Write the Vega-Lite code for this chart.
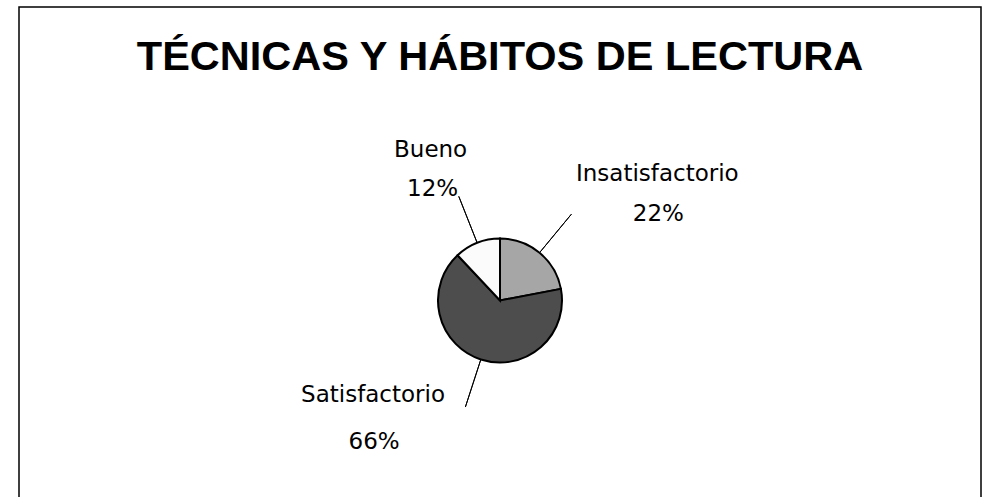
{
  "$schema": "https://vega.github.io/schema/vega-lite/v6.json",
  "autosize": {"type": "none"},
  "padding": {"left": 19, "top": 7, "right": 9, "bottom": 0},
  "width": 962,
  "height": 587,
  "background": "white",
  "view": {"stroke": "black", "strokeWidth": 1.5},
  "title": {
    "text": "TÉCNICAS Y HÁBITOS DE LECTURA",
    "font": "Liberation Sans",
    "fontSize": 41.5,
    "fontWeight": "bold",
    "color": "black",
    "baseline": "alphabetic",
    "anchor": "middle",
    "offset": -104
  },
  "data": {
    "values": [
      {"category": "Insatisfactorio", "share": 0.22},
      {"category": "Satisfactorio", "share": 0.66},
      {"category": "Bueno", "share": 0.12}
    ]
  },
  "transform": [{"window": [{"op": "row_number", "as": "idx"}]}],
  "layer": [
    {
      "mark": {"type": "arc", "outerRadius": 62, "stroke": "black", "strokeWidth": 2},
      "encoding": {
        "theta": {"field": "share", "type": "quantitative", "stack": true},
        "order": {"field": "idx", "type": "quantitative"},
        "color": {
          "field": "category",
          "type": "nominal",
          "scale": {"domain": ["Insatisfactorio", "Satisfactorio", "Bueno"], "range": ["#a6a6a6", "#4d4d4d", "#fbfbfb"]},
          "legend": null
        }
      }
    },
    {
      "transform": [
        {"stack": "share", "groupby": [], "sort": [{"field": "idx", "order": "ascending"}], "as": ["s0", "s1"]}
      ],
      "mark": {
        "type": "arc",
        "innerRadius": 62,
        "outerRadius": 112,
        "padAngle": 3.1416,
        "thetaOffset": 0.6,
        "theta2Offset": -0.6,
        "filled": false,
        "stroke": "black",
        "strokeWidth": 1
      },
      "encoding": {
        "theta": {"field": "s0", "type": "quantitative", "stack": null},
        "theta2": {"field": "s1"}
      }
    },
    {
      "mark": {"type": "text", "radius": 126, "dx": 77, "dy": -22, "font": "DejaVu Sans", "fontSize": 23, "baseline": "alphabetic", "align": "center", "color": "black"},
      "encoding": {
        "theta": {"field": "share", "type": "quantitative", "stack": true},
        "order": {"field": "idx", "type": "quantitative"},
        "detail": {"field": "category", "type": "nominal"},
        "text": {"condition": {"test": "datum.category === 'Insatisfactorio'", "field": "category", "type": "nominal"}, "value": ""}
      }
    },
    {
      "mark": {"type": "text", "radius": 126, "dx": 78, "dy": 18, "font": "DejaVu Sans", "fontSize": 23, "baseline": "alphabetic", "align": "center", "color": "black"},
      "encoding": {
        "theta": {"field": "share", "type": "quantitative", "stack": true},
        "order": {"field": "idx", "type": "quantitative"},
        "detail": {"field": "category", "type": "nominal"},
        "text": {"condition": {"test": "datum.category === 'Insatisfactorio'", "field": "share", "type": "quantitative", "format": ".0%"}, "value": ""}
      }
    },
    {
      "mark": {"type": "text", "radius": 126, "dx": -88, "dy": -18, "font": "DejaVu Sans", "fontSize": 23, "baseline": "alphabetic", "align": "center", "color": "black"},
      "encoding": {
        "theta": {"field": "share", "type": "quantitative", "stack": true},
        "order": {"field": "idx", "type": "quantitative"},
        "detail": {"field": "category", "type": "nominal"},
        "text": {"condition": {"test": "datum.category === 'Satisfactorio'", "field": "category", "type": "nominal"}, "value": ""}
      }
    },
    {
      "mark": {"type": "text", "radius": 126, "dx": -87, "dy": 29, "font": "DejaVu Sans", "fontSize": 23, "baseline": "alphabetic", "align": "center", "color": "black"},
      "encoding": {
        "theta": {"field": "share", "type": "quantitative", "stack": true},
        "order": {"field": "idx", "type": "quantitative"},
        "detail": {"field": "category", "type": "nominal"},
        "text": {"condition": {"test": "datum.category === 'Satisfactorio'", "field": "share", "type": "quantitative", "format": ".0%"}, "value": ""}
      }
    },
    {
      "mark": {"type": "text", "radius": 126, "dx": -23, "dy": -26, "font": "DejaVu Sans", "fontSize": 23, "baseline": "alphabetic", "align": "center", "color": "black"},
      "encoding": {
        "theta": {"field": "share", "type": "quantitative", "stack": true},
        "order": {"field": "idx", "type": "quantitative"},
        "detail": {"field": "category", "type": "nominal"},
        "text": {"condition": {"test": "datum.category === 'Bueno'", "field": "category", "type": "nominal"}, "value": ""}
      }
    },
    {
      "mark": {"type": "text", "radius": 126, "dx": -21, "dy": 13, "font": "DejaVu Sans", "fontSize": 23, "baseline": "alphabetic", "align": "center", "color": "black"},
      "encoding": {
        "theta": {"field": "share", "type": "quantitative", "stack": true},
        "order": {"field": "idx", "type": "quantitative"},
        "detail": {"field": "category", "type": "nominal"},
        "text": {"condition": {"test": "datum.category === 'Bueno'", "field": "share", "type": "quantitative", "format": ".0%"}, "value": ""}
      }
    }
  ]
}
